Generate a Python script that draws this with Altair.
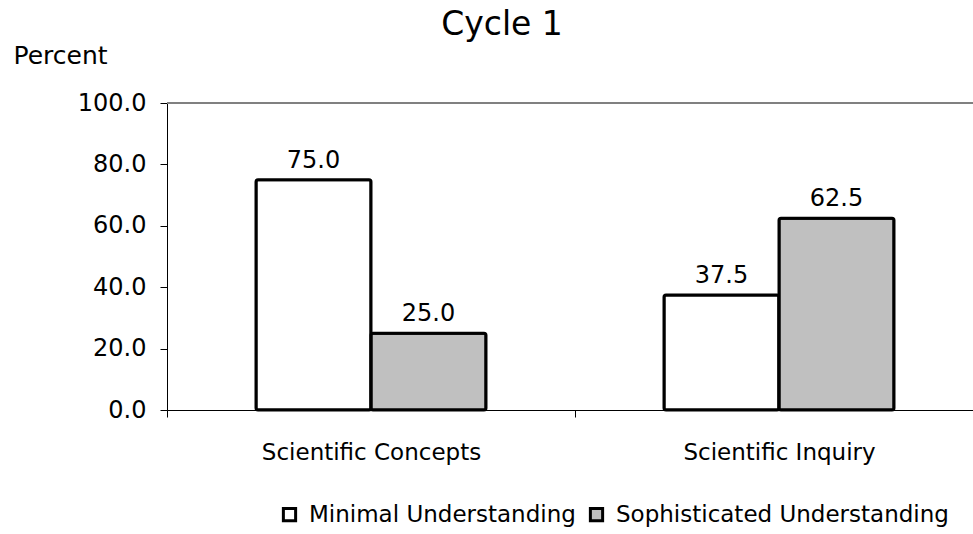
import altair as alt
import pandas as pd

# Share of students at each understanding level, by assessment area
areas = ["Scientific Concepts", "Scientific Concepts", "Scientific Inquiry", "Scientific Inquiry"]
levels = ["Minimal Understanding", "Sophisticated Understanding",
          "Minimal Understanding", "Sophisticated Understanding"]
percents = [75.0, 25.0, 37.5, 62.5]
level_order = ["Minimal Understanding", "Sophisticated Understanding"]
level_fills = ["#FFFFFF", "#C0C0C0"]
y_ticks = [0, 20, 40, 60, 80, 100]

df = pd.DataFrame({"area": areas, "level": levels, "percent": percents})
df["label"] = df["percent"].map(lambda v: f"{v:.1f}")

FONT = "DejaVu Sans"

x = alt.X(
    "area:N",
    title=None,
    scale=alt.Scale(range=[0, 816], paddingInner=0, paddingOuter=0),
    axis=alt.Axis(
        labelAngle=0, tickBand="extent", tickSize=7, labelPadding=24, labelLimit=0,
        domainColor="black", tickColor="black", labelColor="black",
        labelFont=FONT, labelFontSize=23,
    ),
)
xo = alt.XOffset("level:N", sort=level_order,
                 scale=alt.Scale(paddingInner=0, paddingOuter=0.774))
y = alt.Y(
    "percent:Q",
    scale=alt.Scale(domain=[0, 100]),
    axis=alt.Axis(
        values=y_ticks, format=".1f", grid=False,
        title="Percent", titleAngle=0, titleX=-154, titleY=-40,
        titleAlign="left", titleBaseline="alphabetic",
        titleFont=FONT, titleFontSize=25, titleFontWeight="normal", titleColor="black",
        tickSize=7, labelPadding=14, domainColor="black", tickColor="black",
        labelColor="black", labelFont=FONT, labelFontSize=24,
    ),
)

base = alt.Chart(df)

top_line = base.mark_rule(color="#808080", strokeWidth=2).encode(y=alt.datum(100))

bars = base.mark_bar(stroke="black", strokeWidth=3, cornerRadius=2).encode(
    x=x,
    xOffset=xo,
    y=y,
    fill=alt.Fill(
        "level:N",
        sort=level_order,
        scale=alt.Scale(domain=level_order, range=level_fills),
        legend=alt.Legend(
            title=None, orient="none", direction="horizontal",
            legendX=111, legendY=400, padding=0, labelLimit=0,
            symbolType="square", symbolSize=150,
            symbolStrokeColor="black", symbolStrokeWidth=3,
            labelFont=FONT, labelFontSize=23, labelColor="black",
            labelOffset=8, columnPadding=8,
        ),
    ),
)

labels = base.mark_text(
    baseline="alphabetic", dy=-12, font=FONT, fontSize=24, color="black"
).encode(x=x, xOffset=xo, y=y, text="label:N")

chart = (
    alt.layer(top_line, bars, labels)
    .properties(
        width=806,
        height=307,
        autosize=alt.AutoSizeParams(type="none"),
        padding={"left": 167, "top": 103, "right": 0, "bottom": 124},
        title=alt.TitleParams(
            "Cycle 1", font=FONT, fontSize=33, fontWeight="normal", color="black",
            anchor="middle", dx=-68, baseline="alphabetic", offset=20, dy=45,
        ),
    )
    .configure_view(stroke=None)
    .configure(background="white")
)

chart.save("out.html", embed_options={"renderer": "svg", "actions": False})
